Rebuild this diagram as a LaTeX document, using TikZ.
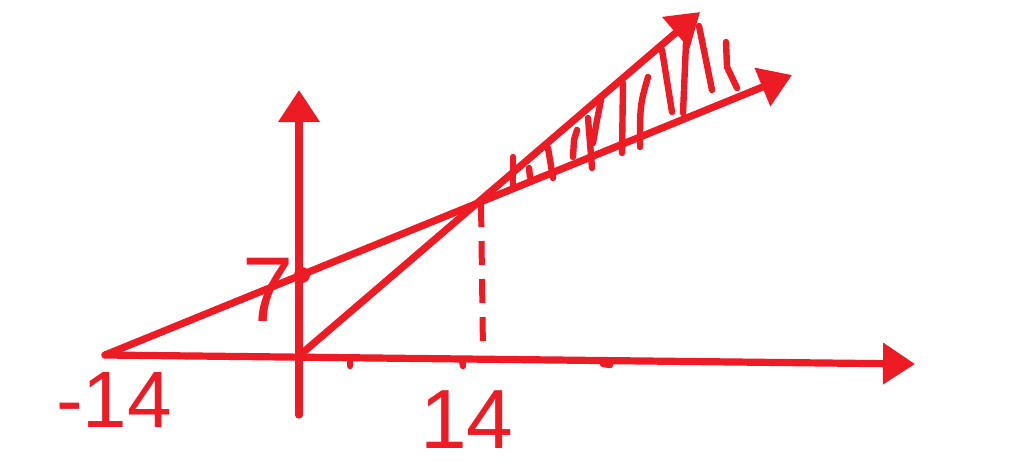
\documentclass[tikz,border=0pt]{standalone}
\usepackage{fontspec}
\setmainfont{Liberation Sans}
\usetikzlibrary{arrows.meta}
\definecolor{pen}{HTML}{ED1C24}
\begin{document}
\begin{tikzpicture}[x=0.5pt,y=-0.5pt,
  stroke/.style={draw=pen,line width=3.6pt,line cap=round},
  thin stroke/.style={draw=pen,line width=3.2pt,line cap=round},
  arr/.style={stroke,-{Triangle[length=16pt,width=20pt]}},
  lbl/.style={text=pen,inner sep=0pt}]
\useasboundingbox (0,0) rectangle (1015,468);
% points
\coordinate (xs) at (105,355);
\coordinate (xe) at (915,364);
\coordinate (ys) at (299,415);
\coordinate (ye) at (299,90);
\coordinate (o) at (300,355);
\coordinate (l1e) at (792,75);
\coordinate (l2e) at (700,12);
\coordinate (p) at (481,203);
\coordinate (pf) at (483,352);
\coordinate (yi) at (302,275);
% axes
\draw[arr] (xs) -- (xe);
\draw[arr] (ys) -- (ye);
% lines
\draw[arr] (xs) -- (l1e);
\draw[arr] (o) -- (l2e);
% dashed
\draw[draw=pen,line width=3pt,dash pattern=on 12pt off 7pt] (p) -- (pf);
% intercept dot
\fill[pen] (yi) circle (8);
% small marks on axis
\draw[thin stroke] (350,362) -- (350,366);
\draw[thin stroke] (603,364) -- (610,365);
\draw[thin stroke] (462,360) -- (463,366);
% hatching
\draw[thin stroke] (513,157) -- (513,185);
\draw[thin stroke] (529,168) -- (530,177);
\draw[thin stroke] (548,148) -- (553,178);
\draw[thin stroke] (573,157) -- (574,140) -- (577,130);
\draw[thin stroke] (588,118) -- (592,168);
\draw[thin stroke] (593,143) -- (597,120) -- (601,100);
\draw[thin stroke] (623,83) -- (622,153);
\draw[thin stroke] (648,77) .. controls (640,105) .. (640,147);
\draw[thin stroke] (662,50) -- (672,112);
\draw[thin stroke] (686,43) -- (683,113);
\draw[thin stroke] (699,26) -- (712,90);
\draw[thin stroke] (726,42) -- (727,67) -- (737,88);
% labels
\node[lbl,font=\fontsize{46}{46}\selectfont] (seven) at (268,290) {7};
\node[lbl,font=\fontsize{40}{40}\selectfont] (m14) at (114,400) {-14};
\node[lbl,font=\fontsize{42}{42}\selectfont] (p14) at (467,420) {14};
\end{tikzpicture}
\end{document}
